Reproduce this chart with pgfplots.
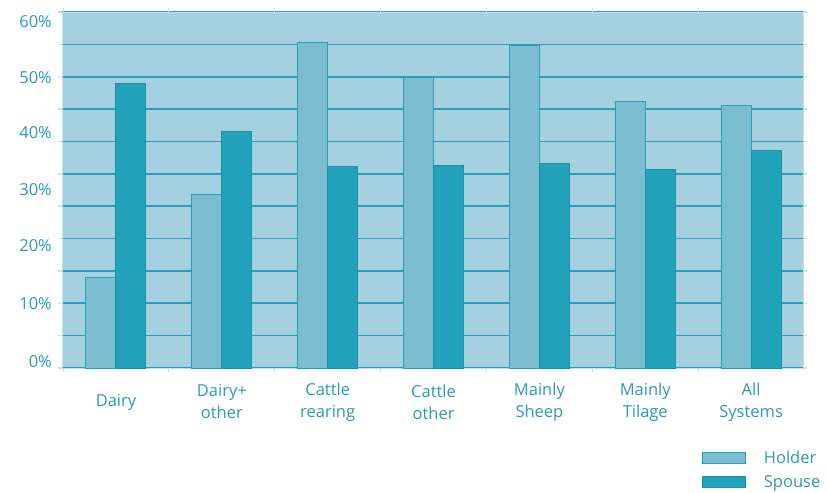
\documentclass[border=0pt]{standalone}
\usepackage{fontspec}
\setmainfont{Open Sans}
\usepackage{pgfplots}
\pgfplotsset{compat=1.18}
\definecolor{bg}{HTML}{A5D0DF}
\definecolor{gridc}{HTML}{2A9DB7}
\definecolor{holder}{HTML}{7BBDD1}
\definecolor{spouse}{HTML}{21A2BA}
\definecolor{spouseb}{HTML}{1592AA}
\definecolor{txt}{HTML}{2A9AB5}
\definecolor{light}{HTML}{C2E1EA}
\begin{document}
\begin{tikzpicture}
\useasboundingbox (0,0) rectangle (828pt,493pt);
\begin{axis}[
 at={(62pt,125pt)}, anchor=south west,
 scale only axis, width=741pt, height=356pt,
 xmin=-0.51, xmax=6.49, ymin=0, ymax=60,
 ybar=0pt, bar width=30pt,
 axis background/.style={fill=bg},
 every outer x axis line/.append style={draw=gridc, line width=1.8pt},
 every outer y axis line/.append style={draw=light, line width=1pt},
 tick align=outside,
 xtick={0,...,6},
 xticklabels={Dairy, Dairy+\\other, Cattle\\rearing, Cattle\\other, Mainly\\Sheep, Mainly\\Tilage, All\\Systems},
 xticklabel style={anchor=center, align=center, yshift=-30pt, font=\fontsize{16.5}{22}\selectfont, text=txt},
 major x tick style={draw=none},
 minor xtick={-0.5,0.5,...,6.5},
 minor x tick style={draw=light, line width=1pt},
 minor tick length=4pt,
 ytick={0,5.4545,10.909,16.364,21.818,27.273,32.727,38.182,43.636,49.091,54.545,60},
 yticklabels={},
 ymajorgrids,
 major grid style={draw=gridc, line width=1.7pt},
 major y tick style={draw=light, line width=1.5pt},
 major tick length=4pt,
 extra y ticks={1.0,10.8,20.7,30.0,39.6,48.9,58.3},
 extra y tick labels={0\%,10\%,20\%,30\%,40\%,50\%,60\%},
 extra y tick style={grid=none, major tick length=0pt, yticklabel style={anchor=east, inner sep=0pt, xshift=-10pt, font=\fontsize{16.5}{20}\selectfont, text=txt}},
 legend style={at={(0.864,-0.233)}, anchor=north west, draw=none, fill=none, inner sep=0pt, row sep=10.5pt, font=\fontsize{16.5}{20}\selectfont, text=txt, nodes={inner sep=0pt}},
 legend cell align=left,
 legend image code/.code={\draw[#1] (0pt,-5.5pt) rectangle (43pt,5.5pt); \path[draw=none,fill=none] (0pt,0pt) -- (61pt,0pt);},
]
\addplot[fill=holder, draw=gridc, line width=1pt] coordinates {(0,15.3)(1,29.3)(2,54.9)(3,48.9)(4,54.3)(5,45.0)(6,44.3)};
\addplot[fill=spouse, draw=spouseb, line width=1pt] coordinates {(0,47.9)(1,39.8)(2,33.9)(3,34.2)(4,34.4)(5,33.5)(6,36.6)};
\legend{Holder, Spouse}
\end{axis}
\end{tikzpicture}
\end{document}
